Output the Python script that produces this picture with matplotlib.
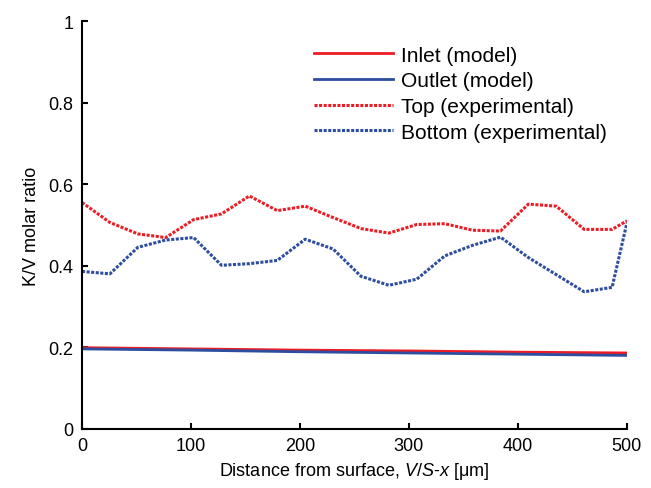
import matplotlib
matplotlib.use("Agg")
import matplotlib.pyplot as plt

plt.rcParams['font.family'] = ['Liberation Sans', 'DejaVu Sans']
plt.rcParams['mathtext.fontset'] = 'custom'
plt.rcParams['mathtext.rm'] = 'Liberation Sans'
plt.rcParams['mathtext.it'] = 'Liberation Sans:italic'

# model curves (inlet / outlet)
x_model = [0, 100, 200, 300, 400, 500]
inlet = [0.199, 0.196, 0.193, 0.191, 0.188, 0.186]
outlet = [0.196, 0.193, 0.189, 0.186, 0.183, 0.180]

# experimental points
x_exp = [0, 25.6, 51.2, 76.8, 102.4, 128, 153.6, 179.2, 204.8, 230.4, 256,
         281.6, 307.2, 332.8, 358.4, 384, 409.6, 435.2, 460.8, 486.4, 500]
top = [0.555, 0.506, 0.478, 0.469, 0.513, 0.527, 0.571, 0.535, 0.546, 0.518, 0.491,
       0.480, 0.501, 0.503, 0.487, 0.485, 0.551, 0.546, 0.489, 0.489, 0.510]
bottom = [0.386, 0.380, 0.445, 0.463, 0.469, 0.401, 0.405, 0.413, 0.465, 0.441, 0.374,
          0.352, 0.367, 0.424, 0.450, 0.470, 0.420, 0.378, 0.336, 0.347, 0.505]

red = '#ED1C24'
blue = '#2C4DA0'

fig = plt.figure(figsize=(6.51, 4.89), dpi=100)
ax = fig.add_axes([0.126, 0.121, 0.837, 0.834])

ax.plot(x_model, inlet, color=red, lw=2, label='Inlet (model)')
ax.plot(x_model, outlet, color=blue, lw=2, label='Outlet (model)')
ax.plot(x_exp, top, color=red, lw=2.2, linestyle=(0, (1, 0.5)), label='Top (experimental)')
ax.plot(x_exp, bottom, color=blue, lw=2.2, linestyle=(0, (1, 0.5)), label='Bottom (experimental)')

ax.set_xlim(0, 500)
ax.set_ylim(0, 1)
ax.set_xticks([0, 100, 200, 300, 400, 500])
ax.set_yticks([0, 0.2, 0.4, 0.6, 0.8, 1])
ax.set_yticklabels(['0', '0.2', '0.4', '0.6', '0.8', '1'])
ax.tick_params(direction='in', length=4, width=1.5, labelsize=13, pad=6)
for s in ['top', 'right']:
    ax.spines[s].set_visible(False)
for s in ['left', 'bottom']:
    ax.spines[s].set_linewidth(1.5)

ax.set_xlabel(r'Distance from surface, $V/S$-$x$ [μm]', fontsize=13, labelpad=4)
ax.set_ylabel('K/V molar ratio', fontsize=13, labelpad=6)

ax.legend(loc='upper right', bbox_to_anchor=(1, 0.988), frameon=False, fontsize=15,
          handlelength=3.8, handletextpad=0.4, labelspacing=0.32, borderaxespad=0.55)

fig.savefig('out.png', dpi=100)
